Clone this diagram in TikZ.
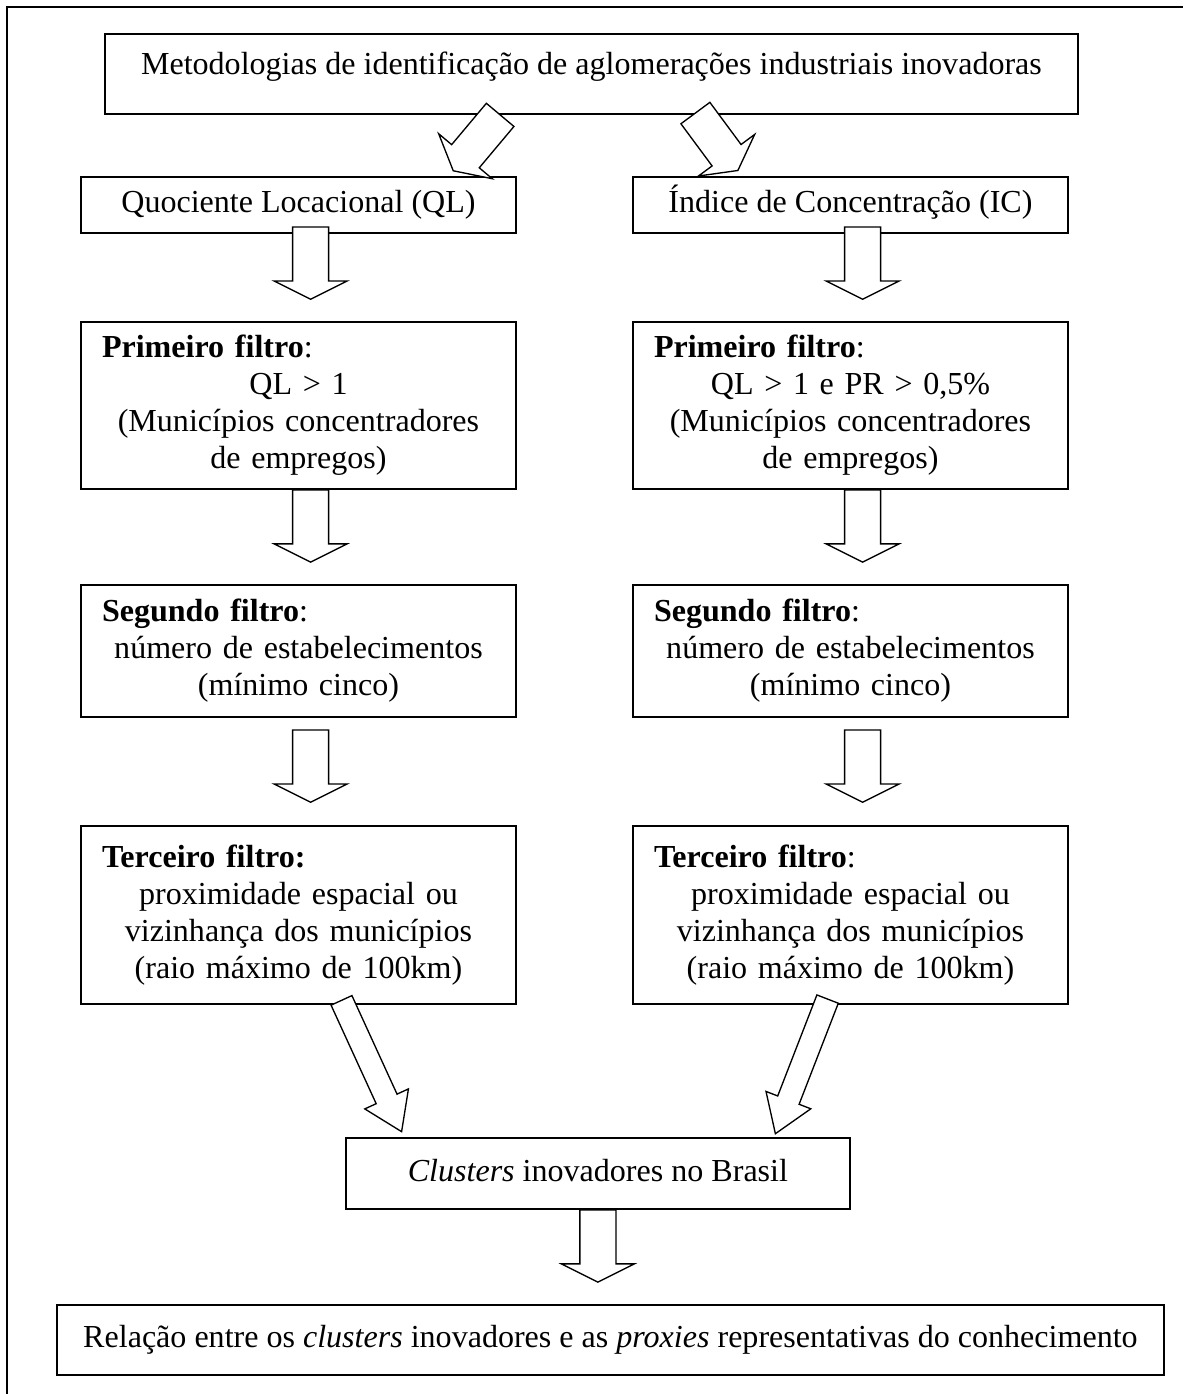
\documentclass[tikz,border=0pt]{standalone}
\usepackage{fontspec}
\setmainfont{Liberation Serif}
\usetikzlibrary{calc}

\tikzset{
  box/.style={draw, line width=0.7pt, below right, inner sep=0pt, align=center, font=\fontsize{12pt}{13.8pt}\selectfont},
  onebox/.style={box, text height=0.3cm, text depth=0.1cm},
  filterbox/.style={box, minimum width=5.724cm, text width=5.17cm, inner xsep=0.276cm},
  blockarrow/.style={draw, fill=white, line width=0.5pt, line join=miter}
}

\begin{document}
\begin{tikzpicture}
\useasboundingbox (0,0) rectangle (15.566,-18.342);

% Outer frame (top and left edges)
\draw[line width=0.7pt] (0.092,-18.342) -- (0.092,-0.092) -- (15.566,-0.092);

% Top box
\node[onebox, minimum width=12.803cm, minimum height=1.053cm, text depth=0.29cm] (metod) at (1.368,-0.434) {Metodologias de identificação de aglomerações industriais inovadoras};

% The two indices
\node[onebox, minimum width=5.724cm, minimum height=0.737cm] (ql) at (1.053,-2.316) {Quociente Locacional (QL)};
\node[onebox, minimum width=5.724cm, minimum height=0.737cm] (ic) at (8.316,-2.316) {Índice de Concentração (IC)};

% First filter
\node[filterbox, minimum height=2.197cm] (p1l) at (1.053,-4.224) {\makebox[\hsize][l]{\textbf{Primeiro filtro}:}\\ QL > 1\\ (Municípios concentradores\\ de empregos)};
\node[filterbox, minimum height=2.197cm] (p1r) at (8.316,-4.224) {\makebox[\hsize][l]{\textbf{Primeiro filtro}:}\\ QL > 1 e PR > 0,5\%\\ (Municípios concentradores\\ de empregos)};

% Second filter
\node[filterbox, minimum height=1.737cm] (s2l) at (1.053,-7.684) {\makebox[\hsize][l]{\textbf{Segundo filtro}:}\\ número de estabelecimentos\\ (mínimo cinco)};
\node[filterbox, minimum height=1.737cm] (s2r) at (8.316,-7.684) {\makebox[\hsize][l]{\textbf{Segundo filtro}:}\\ número de estabelecimentos\\ (mínimo cinco)};

% Third filter
\node[filterbox, minimum height=2.342cm] (t3l) at (1.053,-10.855) {\makebox[\hsize][l]{\textbf{Terceiro filtro:}}\\ proximidade espacial ou\\ vizinhança dos municípios\\ (raio máximo de 100km)};
\node[filterbox, minimum height=2.342cm] (t3r) at (8.316,-10.855) {\makebox[\hsize][l]{\textbf{Terceiro filtro}:}\\ proximidade espacial ou\\ vizinhança dos municípios\\ (raio máximo de 100km)};

% Result boxes
\node[onebox, minimum width=6.632cm, minimum height=0.934cm] (cl) at (4.539,-14.961) {\textit{Clusters} inovadores no Brasil};
\node[onebox, minimum width=14.566cm, minimum height=0.921cm] (rel) at (0.737,-17.158) {Relação entre os \textit{clusters} inovadores e as \textit{proxies} representativas do conhecimento};

% Tails of the block arrows
\coordinate (a1) at ([xshift=0.16cm,yshift=0.09cm]ql.south);
\coordinate (b1) at ([xshift=0.16cm,yshift=0.09cm]ic.south);
\coordinate (a2) at ([xshift=0.16cm]p1l.south);
\coordinate (b2) at ([xshift=0.16cm]p1r.south);
\coordinate (a3) at ([xshift=0.16cm,yshift=-0.16cm]s2l.south);
\coordinate (b3) at ([xshift=0.16cm,yshift=-0.16cm]s2r.south);
\coordinate (a4) at (cl.south);
\coordinate (d1) at ([xshift=-1.201cm]metod.south);
\coordinate (d2) at ([xshift=1.368cm,yshift=0.024cm]metod.south);
\coordinate (d3) at ([xshift=0.566cm,yshift=0.059cm]t3l.south);
\coordinate (d4) at ([xshift=-0.301cm,yshift=0.076cm]t3r.south);

% Straight block arrows
\foreach \c in {a1,b1,a2,b2,a3,b3,a4}
  \draw[blockarrow, shift={(\c)}, rotate=-90] (0,-0.237) -- (0.71,-0.237) -- (0.71,-0.48) -- (0.95,0) -- (0.71,0.48) -- (0.71,0.237) -- (0,0.237) -- cycle;

% Slanted block arrows
\foreach \c/\ang/\len/\sw/\hw/\hk in {d1/230/0.96/0.237/0.46/0.25, d2/-53.5/0.94/0.237/0.46/0.25, d3/-65.4/1.90/0.151/0.316/0.474, d4/-111.2/1.90/0.151/0.316/0.474}
  \draw[blockarrow, shift={(\c)}, rotate=\ang] (0,-\sw) -- (\len-\hk,-\sw) -- (\len-\hk,-\hw) -- (\len,0) -- (\len-\hk,\hw) -- (\len-\hk,\sw) -- (0,\sw) -- cycle;

\end{tikzpicture}
\end{document}
